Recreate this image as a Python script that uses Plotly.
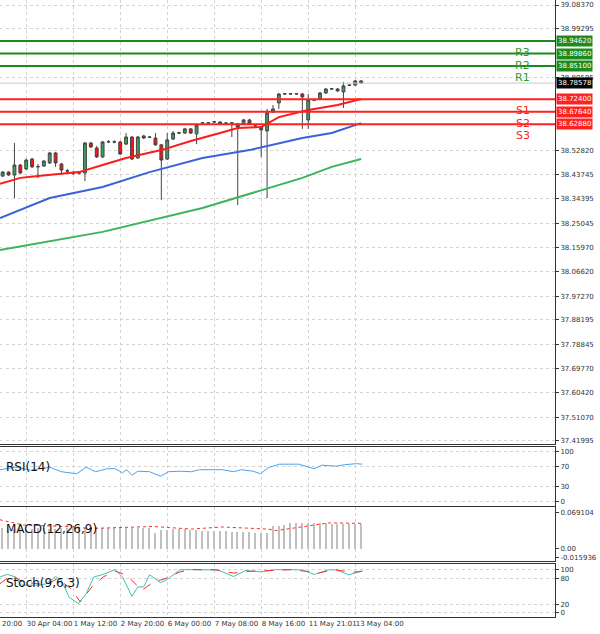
import plotly.graph_objects as go
from plotly.subplots import make_subplots

# ---------------- data ----------------
opens  = [38.431,38.446,38.435,38.473,38.458,38.496,38.466,38.469,38.481,38.519,38.477,38.450,38.443,38.442,38.443,38.557,38.538,38.504,38.561,38.562,
          38.561,38.553,38.580,38.500,38.584,38.580,38.576,38.550,38.496,38.572,38.595,38.595,38.611,38.592,38.633,38.633,38.637,38.637,38.633,38.633,
          38.630,38.630,38.645,38.622,38.618,38.603,38.675,38.710,38.744,38.744,38.744,38.744,38.645,38.721,38.725,38.748,38.763,38.763,38.752,38.777,
          38.778,38.794]
highs  = [38.450,38.449,38.557,38.477,38.497,38.500,38.477,38.492,38.523,38.523,38.481,38.458,38.450,38.448,38.561,38.561,38.546,38.565,38.568,38.567,
          38.565,38.595,38.584,38.584,38.588,38.584,38.595,38.553,38.595,38.603,38.600,38.615,38.614,38.630,38.637,38.637,38.641,38.641,38.637,38.637,
          38.634,38.649,38.649,38.626,38.622,38.687,38.702,38.748,38.748,38.748,38.748,38.748,38.744,38.725,38.752,38.767,38.767,38.767,38.790,38.780,
          38.797,38.797]
lows   = [38.427,38.432,38.347,38.439,38.454,38.462,38.423,38.466,38.477,38.466,38.435,38.440,38.435,38.437,38.412,38.538,38.500,38.500,38.557,38.556,
          38.511,38.549,38.492,38.496,38.572,38.576,38.546,38.340,38.492,38.569,38.591,38.592,38.591,38.553,38.630,38.630,38.634,38.626,38.630,38.580,
          38.320,38.626,38.626,38.618,38.503,38.347,38.672,38.687,38.741,38.741,38.741,38.611,38.611,38.717,38.721,38.744,38.760,38.752,38.691,38.776,
          38.775,38.783]
closes = [38.446,38.435,38.473,38.443,38.492,38.466,38.467,38.488,38.519,38.481,38.454,38.451,38.442,38.444,38.557,38.542,38.504,38.561,38.562,38.561,
          38.515,38.580,38.496,38.580,38.576,38.579,38.550,38.492,38.569,38.595,38.596,38.611,38.595,38.626,38.634,38.634,38.638,38.630,38.633,38.634,
          38.618,38.645,38.630,38.622,38.607,38.672,38.687,38.744,38.745,38.745,38.745,38.733,38.721,38.721,38.748,38.763,38.764,38.756,38.775,38.778,
          38.794,38.786]

ma_red_x  = [-0.46,3,6,13,17,21,27,32,37,40,44,47,52,57,61]
ma_red_y  = [38.401,38.424,38.431,38.446,38.473,38.500,38.530,38.565,38.595,38.614,38.618,38.656,38.683,38.702,38.725]
ma_blue_x = [-0.46,8,17,25,34,42,51,56,61]
ma_blue_y = [38.271,38.347,38.389,38.446,38.500,38.530,38.576,38.595,38.633]
ma_green_x = [-0.46,17,34,51,56,61]
ma_green_y = [38.149,38.218,38.309,38.424,38.466,38.496]

levels = [("R3",38.9462,"green"),("R2",38.8986,"green"),("R1",38.8510,"green"),
          ("S1",38.7240,"red"),("S2",38.6764,"red"),("S3",38.6288,"red")]
last_price = 38.78578

price_ticks = [39.08370,38.99295,38.80595,38.52820,38.43745,38.34395,38.25045,38.15970,38.06620,
               37.97270,37.88195,37.78845,37.69770,37.60420,37.51070,37.41995]

rsi_x = [-0.5,2.2,4.8,8.0,10.0,12.6,14.2,15.8,17.8,19.1,20.4,21.1,22.0,23.0,25.0,26.9,28.2,30.2,32.1,33.5,
         37.4,39.3,40.6,42.6,43.9,45.2,47.1,50.4,53.0,54.3,56.9,58.2,60.2,61.2]
rsi_y = [63,68,62,68,59,55,68,59,65,65,57,63,52,60,59,50,59,60,59,63,
         63,59,63,60,55,67,74,74,65,72,70,73,75,74]

macd_hist = [0.040,0.039,0.039,0.040,0.039,0.039,0.040,0.040,0.039,0.039,0.040,0.041,0.041,0.042,0.042,0.042,0.042,0.041,0.040,0.040,
             0.040,0.040,0.040,0.040,0.040,0.040,0.031,0.037,0.037,0.038,0.038,0.038,0.037,0.037,0.034,0.034,0.034,0.034,0.034,0.033,
             0.033,0.033,0.033,0.030,0.030,0.030,0.043,0.044,0.045,0.049,0.049,0.050,0.050,0.050,0.050,0.049,0.048,0.048,0.048,0.048,
             0.048,0.048]
macd_sig_x = [-0.5,3.5,12.6,14.5,25.6,32.1,37.4,45.2,46.5,51.7,55.6,61.2]
macd_sig_y = [0.056,0.046,0.042,0.039,0.043,0.038,0.042,0.038,0.035,0.044,0.050,0.049]

st_x = [-0.5,0.8,2.2,3.1,6.1,7.4,9.0,10.0,11.3,12.9,14.2,15.5,17.1,19.1,20.4,22.0,23.0,24.0,25.0,26.9,28.2,30.2,32.1,33.5,34.8,
        36.7,39.3,41.3,43.9,46.5,49.1,51.1,53.0,55.6,56.9,58.9,61.2]
st_k = [83,89,83,64,64,67,84,75,36,21,44,83,89,100,83,38,60,60,88,70,79,100,100,100,100,
        99,84,98,95,100,100,99,89,100,99,88,97]
sd_x = [-0.5,1.5,3.5,7.4,9.3,11.6,13.2,15.2,17.1,19.1,21.1,23.7,25.6,27.6,30.2,32.1,36.1,39.3,41.9,45.2,49.1,51.7,53.7,56.3,59.5,61.2]
sd_y = [67,87,71,65,79,56,25,60,83,97,87,52,71,79,95,100,100,92,96,98,100,96,92,100,94,96]

xtick_vals = [4,12,20,28,36,44,52,60]
xtick_text = ["30 Apr 04:00","1 May 12:00","2 May 20:00","6 May 00:00","7 May 08:00",
              "8 May 16:00","11 May 21:01","13 May 04:00"]

# ---------------- figure ----------------
fig = make_subplots(rows=4, cols=1, shared_xaxes=True)
idx = list(range(len(closes)))

fig.add_trace(go.Candlestick(x=idx, open=opens, high=highs, low=lows, close=closes,
    increasing=dict(line=dict(color="#444", width=1), fillcolor="#3a9e5e"),
    decreasing=dict(line=dict(color="#444", width=1), fillcolor="#ff1010"),
    whiskerwidth=0, showlegend=False), row=1, col=1)
fig.add_trace(go.Scatter(x=ma_green_x, y=ma_green_y, mode="lines", line=dict(color="#3cb35c", width=2), showlegend=False), row=1, col=1)
fig.add_trace(go.Scatter(x=ma_blue_x, y=ma_blue_y, mode="lines", line=dict(color="#3a63d8", width=2), showlegend=False), row=1, col=1)
fig.add_trace(go.Scatter(x=ma_red_x, y=ma_red_y, mode="lines", line=dict(color="#ff1a1a", width=2), showlegend=False), row=1, col=1)

lblfont = dict(size=7, family="DejaVu Sans")
fig.add_hline(y=last_price, line=dict(color="#c8c8c8", width=1), row=1, col=1)
for name, val, col in levels:
    c = "#1e8a1e" if col == "green" else "#ff2020"
    fig.add_hline(y=val, line=dict(color=c, width=2), row=1, col=1)
    fig.add_annotation(x=1, xref="paper", y=val, yref="y", text=f"{val:.5f}", showarrow=False,
                       xanchor="left", bgcolor=c, font=dict(color="white", **lblfont),
                       borderpad=1, xshift=1)
    fig.add_annotation(x=0.958, xref="paper", y=val, yref="y", text=name, showarrow=False,
                       yanchor="top", yshift=-3, font=dict(color=c if col == "red" else "#2d9a2d", size=11, family="DejaVu Sans"))
fig.add_annotation(x=1, xref="paper", y=last_price, yref="y", text=f"{last_price:.5f}", showarrow=False,
                   xanchor="left", bgcolor="black", font=dict(color="white", **lblfont),
                   borderpad=1, xshift=1)

fig.add_trace(go.Scatter(x=rsi_x, y=rsi_y, mode="lines", line=dict(color="#4aa3f0", width=1), showlegend=False), row=2, col=1)
fig.add_trace(go.Bar(x=idx, y=macd_hist, marker=dict(color="#c0c0c0", line=dict(width=0)), width=0.25, showlegend=False), row=3, col=1)
fig.add_trace(go.Scatter(x=macd_sig_x, y=macd_sig_y, mode="lines", line=dict(color="#ff2a2a", width=1, dash="dot"), showlegend=False), row=3, col=1)
fig.add_trace(go.Scatter(x=st_x, y=st_k, mode="lines", line=dict(color="#40c0b0", width=1), showlegend=False), row=4, col=1)
fig.add_trace(go.Scatter(x=sd_x, y=sd_y, mode="lines", line=dict(color="#ff2a2a", width=1, dash="dash"), showlegend=False), row=4, col=1)

domains = [[0.2804, 1.0], [0.1807, 0.2763], [0.0900, 0.1783], [0.0, 0.0851]]
axfont = dict(size=7, family="DejaVu Sans", color="#333")
grid = dict(showgrid=True, gridcolor="#d4d4d4", griddash="dot", gridwidth=1)
for i in range(4):
    xa = "xaxis" if i == 0 else f"xaxis{i+1}"
    ya = "yaxis" if i == 0 else f"yaxis{i+1}"
    fig.layout[xa].update(range=[-0.46, 94.0], tickvals=xtick_vals, ticktext=xtick_text,
                          showticklabels=(i == 3), ticklabelposition="outside right", tickfont=axfont,
                          tickangle=0, automargin=False,
                          showline=True, linecolor="#333", mirror=True, rangeslider=dict(visible=False),
                          ticks="", **grid)
    fig.layout[ya].update(domain=domains[i], side="right", showline=True, linecolor="#333", mirror=True,
                          tickfont=axfont, ticks="outside", ticklen=3, tickcolor="#333", zeroline=False,
                          automargin=False, **grid)

fig.layout.yaxis.update(range=[37.4085, 39.1028], tickvals=price_ticks, ticktext=[f"{v:.5f}" for v in price_ticks])
fig.layout.yaxis2.update(range=[-8, 109], tickvals=[0, 30, 70, 100])
fig.layout.yaxis3.update(range=[-0.0243, 0.0805], tickvals=[0.069104, 0.0, -0.015936],
                         ticktext=["0.069104", "0.00", "-0.015936"], showgrid=False)
fig.layout.yaxis4.update(range=[-10, 112], tickvals=[0, 20, 80, 100])

for txt, yy in [("RSI(14)", 0.2285), ("MACD(12,26,9)", 0.128), ("Stoch(9,6,3)", 0.04)]:
    fig.add_annotation(x=0.008, xref="paper", y=yy, yref="paper", text=txt, showarrow=False, xanchor="left",
                       font=dict(size=12, family="DejaVu Sans", color="#111"))
fig.add_annotation(x=0, xref="paper", y=0, yref="paper", yanchor="top", yshift=-1, text="20:00", showarrow=False,
                   xanchor="left", font=axfont)

fig.update_layout(width=600, height=634, margin=dict(l=0, r=45, t=0, b=17),
                  plot_bgcolor="white", paper_bgcolor="white", bargap=0)
fig.write_html("out.html", config={"displayModeBar": False})

with open("out.html", encoding="utf-8") as f:
    html = f.read()
html = html.replace("<body>", '<body style="margin:0;padding:0;overflow:hidden">', 1)
html = html.replace("<head>", '<head><style>html,body{margin:0;padding:0;overflow:hidden}</style>', 1)
with open("out.html", "w", encoding="utf-8") as f:
    f.write(html)
